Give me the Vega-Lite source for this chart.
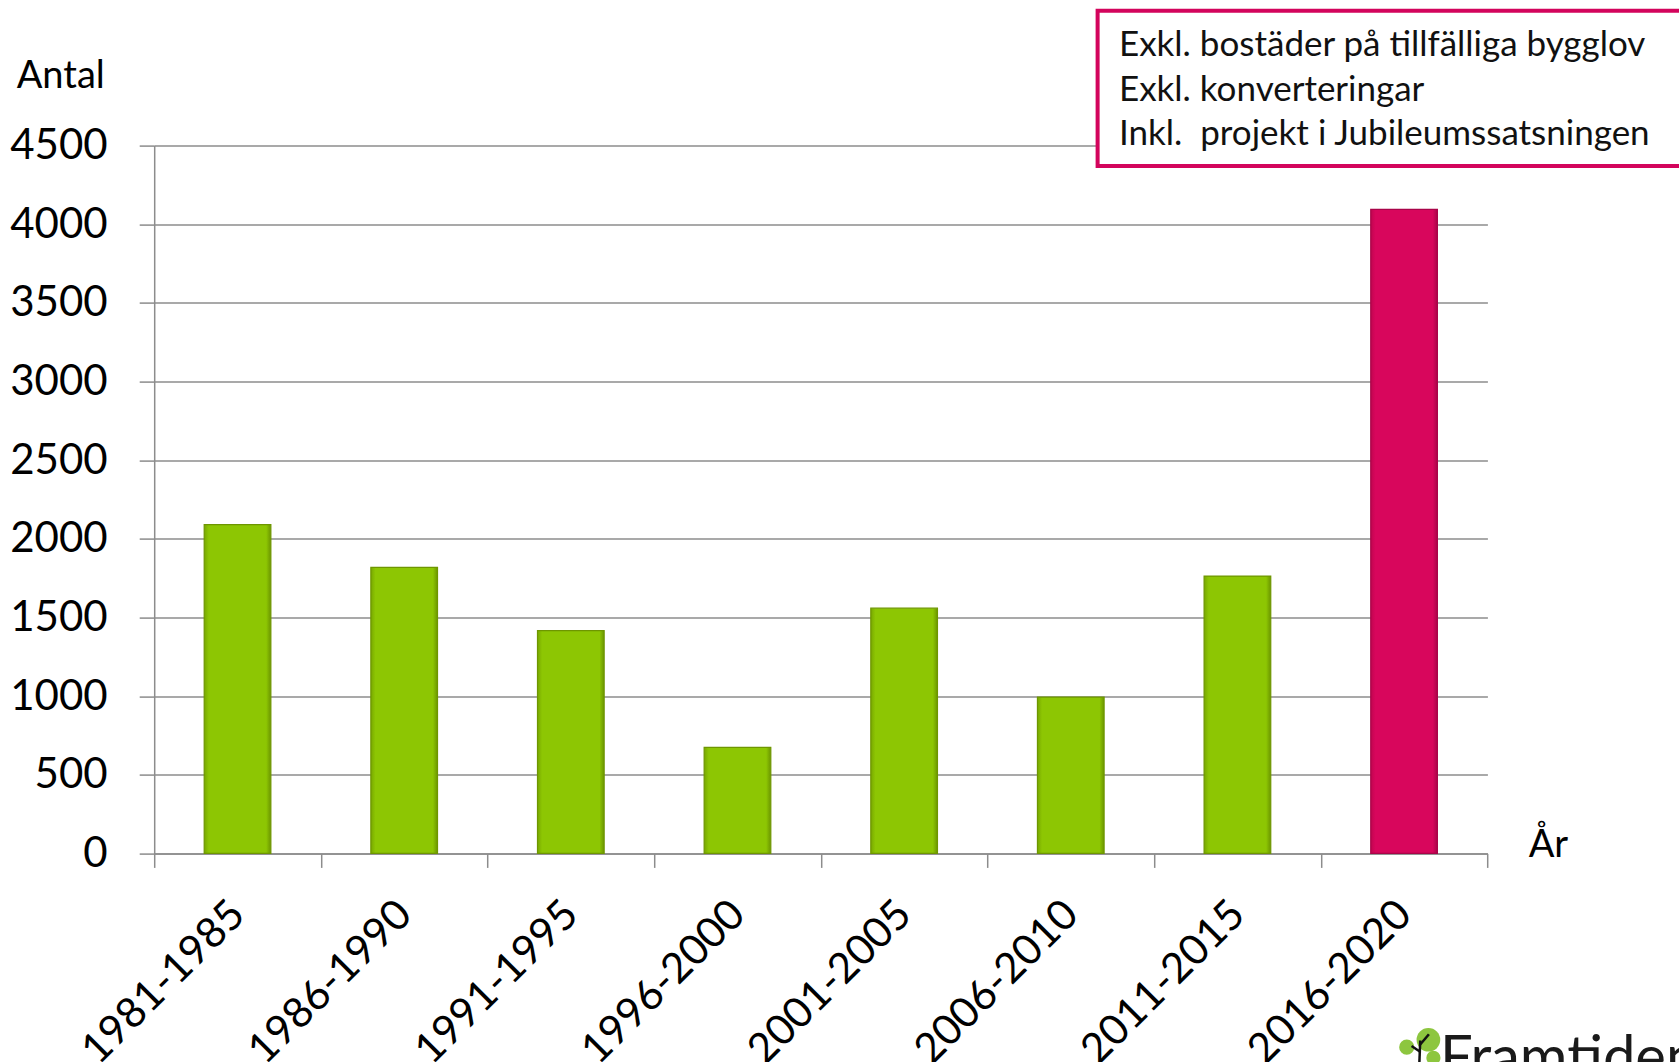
{
  "$schema": "https://vega.github.io/schema/vega-lite/v6.json",
  "autosize": "none",
  "width": 1333.2,
  "height": 707.8,
  "padding": {"left": 154.2, "top": 145.6, "right": 191.6, "bottom": 208.6},
  "background": "white",
  "config": {"view": {"stroke": null}, "font": "Lato"},
  "datasets": {
    "bars": [
      {"period": "1981-1985", "antal": 2090, "typ": "hist"},
      {"period": "1986-1990", "antal": 1818, "typ": "hist"},
      {"period": "1991-1995", "antal": 1416, "typ": "hist"},
      {"period": "1996-2000", "antal": 674, "typ": "hist"},
      {"period": "2001-2005", "antal": 1559, "typ": "hist"},
      {"period": "2006-2010", "antal": 994, "typ": "hist"},
      {"period": "2011-2015", "antal": 1763, "typ": "hist"},
      {"period": "2016-2020", "antal": 4095, "typ": "plan"}
    ],
    "box": [{"ax": 5.661, "ax2": 9.4, "ay": 5358, "ay2": 4370}],
    "notes": [
      {"label": "Exkl. bostäder på tillfälliga bygglov", "ax": 5.789, "ay": 5071},
      {"label": "Exkl. konverteringar", "ax": 5.789, "ay": 4785},
      {"label": "Inkl.\u00a0 projekt i Jubileumssatsningen", "ax": 5.789, "ay": 4506}
    ],
    "logo": [{"label": "Framtiden", "ax": 7.716, "ay": -1422}],
    "leaves": [
      {"ax": 7.646, "ay": -1185, "s": 560},
      {"ax": 7.516, "ay": -1232, "s": 230},
      {"ax": 7.676, "ay": -1300, "s": 200}
    ],
    "trunk": [
      {"ax": 7.591, "ay": -1351, "ax2": 7.597, "ay2": -1190},
      {"ax": 7.597, "ay": -1215, "ax2": 7.649, "ay2": -1150},
      {"ax": 7.594, "ay": -1260, "ax2": 7.545, "ay2": -1225}
    ]
  },
  "layer": [
    {
      "encoding": {
        "x": {
          "field": "period",
          "type": "nominal",
          "scale": {
            "domain": ["1981-1985", "1986-1990", "1991-1995", "1996-2000", "2001-2005", "2006-2010", "2011-2015", "2016-2020"],
            "paddingInner": 0,
            "paddingOuter": 0
          },
          "axis": {
            "title": "År",
            "titleAngle": 0,
            "titleAlign": "left",
            "titleBaseline": "alphabetic",
            "titleX": 1374,
            "titleY": 3,
            "titleFontSize": 38,
            "titleFontWeight": "normal",
            "titleColor": "#000000",
            "titleFont": "Lato",
            "labelAngle": -45,
            "labelAlign": "right",
            "labelBaseline": "middle",
            "labelFontSize": 42,
            "labelFont": "Lato",
            "labelColor": "#000000",
            "labelPadding": 40,
            "labelLimit": 0,
            "labelOverlap": false,
            "tickBand": "extent",
            "tickSize": 14,
            "tickColor": "#8C8C8C",
            "tickWidth": 1.5,
            "domainColor": "#8C8C8C",
            "domainWidth": 1.5,
            "grid": false
          }
        },
        "y": {
          "field": "antal",
          "type": "quantitative",
          "scale": {"domain": [0, 4500], "nice": false},
          "axis": {
            "values": [0, 500, 1000, 1500, 2000, 2500, 3000, 3500, 4000, 4500],
            "format": "d",
            "title": "Antal",
            "titleAngle": 0,
            "titleAlign": "left",
            "titleBaseline": "alphabetic",
            "titleX": -138,
            "titleY": -58,
            "titleFontSize": 38,
            "titleFontWeight": "normal",
            "titleColor": "#000000",
            "titleFont": "Lato",
            "labelFontSize": 42,
            "labelFont": "Lato",
            "labelColor": "#000000",
            "labelPadding": 32,
            "tickSize": 15,
            "tickColor": "#8C8C8C",
            "tickWidth": 1.5,
            "domainColor": "#8C8C8C",
            "domainWidth": 1.5,
            "grid": true,
            "gridColor": "#8C8C8C",
            "gridWidth": 1.5
          }
        }
      },
      "layer": [
        {
          "data": {"name": "bars"},
          "transform": [{"filter": "datum.typ === 'hist'"}],
          "mark": {
            "type": "bar",
            "width": {"band": 0.4},
            "fill": {
              "gradient": "linear", "x1": 0, "x2": 1, "y1": 0, "y2": 0,
              "stops": [
                {"offset": 0, "color": "#78A800"},
                {"offset": 0.07, "color": "#8DC603"},
                {"offset": 0.93, "color": "#8DC603"},
                {"offset": 1, "color": "#6C9600"}
              ]
            },
            "stroke": "#6E9600",
            "strokeWidth": 1.2
          }
        },
        {
          "data": {"name": "bars"},
          "transform": [{"filter": "datum.typ === 'plan'"}],
          "mark": {
            "type": "bar",
            "width": {"band": 0.4},
            "fill": {
              "gradient": "linear", "x1": 0, "x2": 1, "y1": 0, "y2": 0,
              "stops": [
                {"offset": 0, "color": "#C0054F"},
                {"offset": 0.07, "color": "#D8065C"},
                {"offset": 0.93, "color": "#D8065C"},
                {"offset": 1, "color": "#A90449"}
              ]
            },
            "stroke": "#A90449",
            "strokeWidth": 1.2
          }
        }
      ]
    },
    {
      "layer": [
        {
          "data": {"name": "box"},
          "mark": {"type": "rect", "fill": "white", "stroke": "#D3045C", "strokeWidth": 4, "clip": false},
          "encoding": {
            "x": {"field": "ax", "type": "quantitative", "scale": {"domain": [0, 8], "nice": false, "zero": false}, "axis": null},
            "x2": {"field": "ax2"},
            "y": {"field": "ay", "type": "quantitative", "scale": {"domain": [0, 4500], "nice": false}, "axis": null},
            "y2": {"field": "ay2"}
          }
        },
        {
          "data": {"name": "notes"},
          "mark": {"type": "text", "align": "left", "baseline": "alphabetic", "font": "Lato", "fontSize": 35, "color": "#111111"},
          "encoding": {
            "x": {"field": "ax", "type": "quantitative", "scale": {"domain": [0, 8], "nice": false, "zero": false}, "axis": null},
            "y": {"field": "ay", "type": "quantitative", "scale": {"domain": [0, 4500], "nice": false}, "axis": null},
            "text": {"field": "label"}
          }
        },
        {
          "data": {"name": "logo"},
          "mark": {"type": "text", "align": "left", "baseline": "alphabetic", "font": "Lato", "fontSize": 58, "color": "#1A1A1A"},
          "encoding": {
            "x": {"field": "ax", "type": "quantitative", "scale": {"domain": [0, 8], "nice": false, "zero": false}, "axis": null},
            "y": {"field": "ay", "type": "quantitative", "scale": {"domain": [0, 4500], "nice": false}, "axis": null},
            "text": {"field": "label"}
          }
        },
        {
          "data": {"name": "leaves"},
          "mark": {"type": "point", "shape": "circle", "filled": true, "color": "#8DC63F", "opacity": 1},
          "encoding": {
            "x": {"field": "ax", "type": "quantitative", "scale": {"domain": [0, 8], "nice": false, "zero": false}, "axis": null},
            "y": {"field": "ay", "type": "quantitative", "scale": {"domain": [0, 4500], "nice": false}, "axis": null},
            "size": {"field": "s", "type": "quantitative", "scale": null, "legend": null}
          }
        },
        {
          "data": {"name": "trunk"},
          "mark": {"type": "rule", "color": "#111111", "strokeWidth": 2.5},
          "encoding": {
            "x": {"field": "ax", "type": "quantitative", "scale": {"domain": [0, 8], "nice": false, "zero": false}, "axis": null},
            "y": {"field": "ay", "type": "quantitative", "scale": {"domain": [0, 4500], "nice": false}, "axis": null},
            "x2": {"field": "ax2"},
            "y2": {"field": "ay2"}
          }
        }
      ]
    }
  ],
  "resolve": {"scale": {"x": "independent", "y": "independent"}}
}
